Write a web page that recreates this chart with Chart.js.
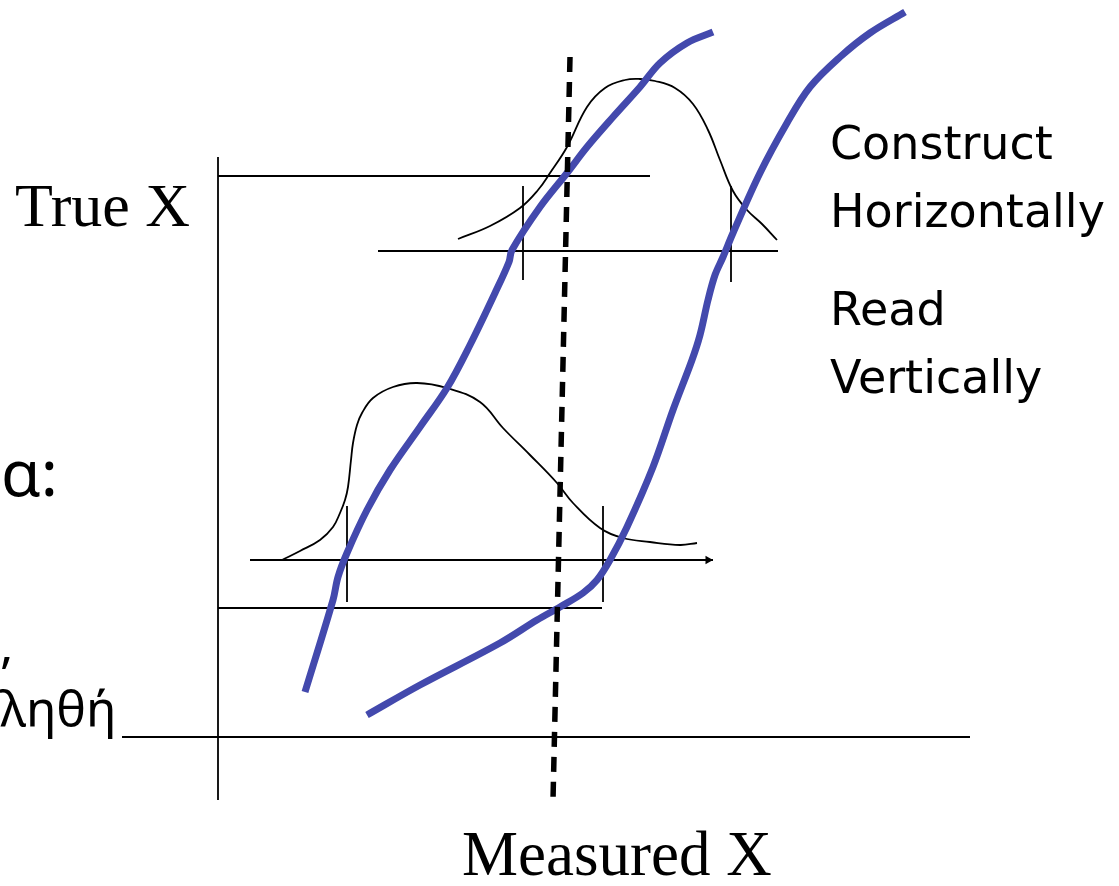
<!DOCTYPE html>
<html>
<head>
<meta charset="utf-8">
<script src="https://cdn.jsdelivr.net/npm/chart.js@4.4.0/dist/chart.umd.min.js"></script>
<style>
html,body{margin:0;padding:0;background:#fff;overflow:hidden}
#wrap{position:relative;width:1119px;height:886px}
</style>
</head>
<body>
<div id="wrap"><canvas id="c"></canvas></div>
<script>
// ---- data (Measured X along x, True X along y; diagram units) ----
const trueAxis      = [[218,157],[218,800]];
const measuredAxis  = [[122,737],[970,737]];
const upperLevel    = [[218,176],[650,176]];
const upperBelt     = [[378,251],[778,251]];
const lowerBelt     = [[250,560],[713,560]];
const lowerLevel    = [[218,608],[602,608]];
const upperTickL    = [[523,186],[523,280]];
const upperTickR    = [[731,186],[731,282]];
const lowerTickL    = [[347,506],[347,602]];
const lowerTickR    = [[603,506],[603,602]];
const arrowTip      = [[708,560]];

const upperPdf = [[458,239],[490,226],[520,208],[538,190],[550,173],[567,147],[587,107],[605,88],[625,80],[640,79],[655,81],[675,88],[693,104],[708,130],[720,160],[733,191],[747,210],[762,224],[777,240]];
const lowerPdf = [[282,560],[300,551],[320,540],[333,527],[340,513],[345,500],[348,487],[351,460],[353,443],[357,425],[362,413],[373,398],[393,387],[417,383],[447,388],[480,402],[503,428],[530,455],[557,483],[573,503],[600,528],[623,538],[650,542],[680,545],[697,543]];

const leftBand  = [[713,32],[687,43],[660,63],[640,87],[613,117],[587,147],[567,173],[540,207],[512,250],[509,262],[495,293],[470,345],[447,388],[420,427],[390,470],[367,510],[347,553],[338,577],[333,600],[305,692]];
const rightBand = [[905,12],[870,33],[840,57],[810,87],[787,123],[760,173],[733,233],[723,257],[715,275],[708,300],[700,335],[692,360],[673,410],[653,467],[627,527],[610,560],[597,580],[583,593],[560,607],[537,620],[500,643],[420,685],[367,715]];

const measuredLine = [[570,57],[553,800]];

const labels = {
  trueX: "True X",
  measuredX: "Measured X",
  construct: ["Construct", "Horizontally"],
  read: ["Read", "Vertically"],
  greek1: "α:",
  greek2: ",",
  greek3: "ληθή"
};

// ---- chart ----
const BLUE = "#4349AD";
function thin(d, tension){ return {data:d, borderColor:"#000", borderWidth:1.8, pointRadius:0, tension:tension||0, order:3, fill:false}; }
function band(d){ return {data:d, borderColor:BLUE, borderWidth:7, pointRadius:0, tension:0.35, order:1, fill:false, borderCapStyle:"butt"}; }

const textPlugin = {
  id:"texts",
  afterDatasetsDraw(chart){
    const ctx = chart.ctx;
    ctx.save();
    ctx.fillStyle = "#000";
    ctx.textBaseline = "alphabetic";
    ctx.textAlign = "left";
    ctx.font = "62px 'Liberation Serif', 'Times New Roman', serif";
    ctx.fillText(labels.trueX, 15, 226);
    ctx.font = "63px 'Liberation Serif', 'Times New Roman', serif";
    ctx.fillText(labels.measuredX, 462, 875);
    ctx.font = "46px 'Comic Sans MS', 'DejaVu Sans', sans-serif";
    ctx.fillText(labels.construct[0], 830, 159);
    ctx.fillText(labels.construct[1], 830, 227);
    ctx.fillText(labels.read[0], 830, 325);
    ctx.fillText(labels.read[1], 830, 393);
    ctx.font = "64px 'Noto Sans', 'Open Sans', sans-serif";
    ctx.fillText(labels.greek1, 1, 496);
    ctx.font = "50px 'Noto Sans', 'Open Sans', sans-serif";
    ctx.fillText(labels.greek2, 0, 663);
    ctx.fillText(labels.greek3, 0, 727);
    ctx.restore();
  }
};

new Chart(document.getElementById("c"), {
  type:"scatter",
  data:{
    datasets:[
      thin(trueAxis), thin(measuredAxis), thin(upperLevel), thin(upperBelt),
      thin(lowerBelt), thin(lowerLevel), thin(upperTickL), thin(upperTickR),
      thin(lowerTickL), thin(lowerTickR),
      thin(upperPdf, 0.4), thin(lowerPdf, 0.4),
      {data:arrowTip, showLine:false, pointStyle:"triangle", rotation:90, pointRadius:5, backgroundColor:"#000", borderWidth:0, order:3},
      band(leftBand), band(rightBand),
      {data:measuredLine, borderColor:"#000", borderWidth:5.5, borderDash:[15,10], pointRadius:0, order:0, fill:false}
    ].map(d => Object.assign({showLine:true, clip:false}, d))
  },
  options:{
    responsive:true,
    maintainAspectRatio:false,
    animation:false,
    devicePixelRatio:1,
    layout:{padding:0, autoPadding:false},
    plugins:{legend:{display:false}, tooltip:{enabled:false}},
    events:[],
    scales:{
      x:{type:"linear", min:0, max:1119, display:false},
      y:{type:"linear", min:0, max:886, reverse:true, display:false}
    }
  },
  plugins:[textPlugin]
});
</script>
</body>
</html>
